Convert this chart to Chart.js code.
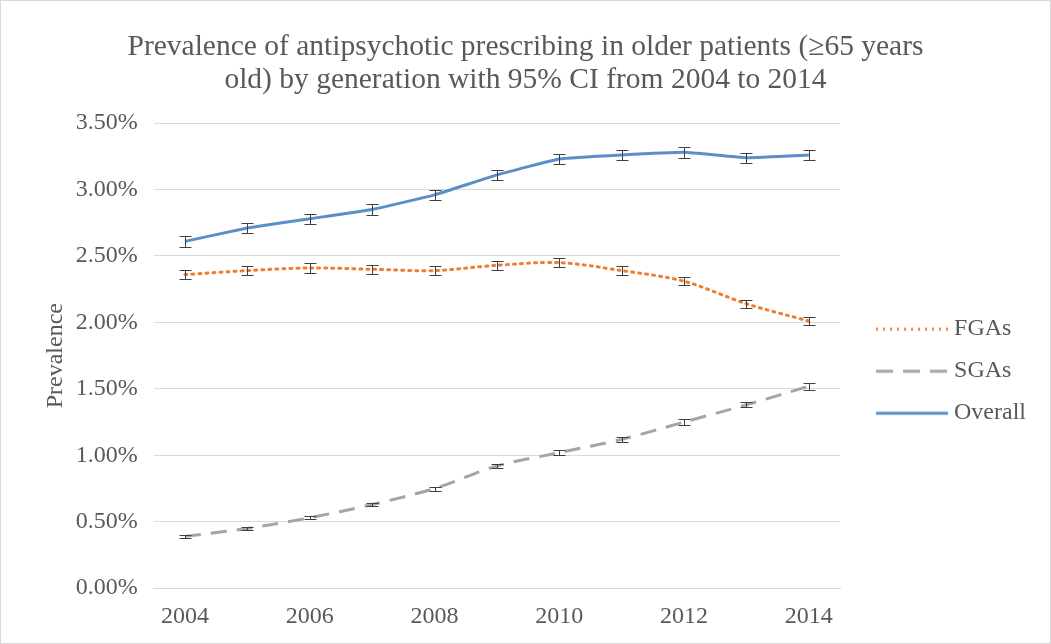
<!DOCTYPE html>
<html>
<head>
<meta charset="utf-8">
<script src="https://cdn.jsdelivr.net/npm/chart.js@4.4.1/dist/chart.umd.min.js"></script>
<style>
  html, body { margin: 0; padding: 0; background: #fff; }
  #wrap { width: 1049px; height: 642px; border: 1px solid #d9d9d9; position: relative; }
</style>
</head>
<body>
<div id="wrap"><canvas id="chart"></canvas></div>
<script>
// data
const years = ["2004", "2005", "2006", "2007", "2008", "2009", "2010", "2011", "2012", "2013", "2014"];
const fgas = [2.36, 2.39, 2.41, 2.40, 2.39, 2.43, 2.45, 2.39, 2.31, 2.14, 2.01];
const sgas = [0.39, 0.45, 0.53, 0.63, 0.75, 0.92, 1.02, 1.12, 1.25, 1.38, 1.52];
const overall = [2.61, 2.71, 2.78, 2.85, 2.96, 3.11, 3.23, 3.26, 3.28, 3.24, 3.26];
// 95% CI half widths
const fgasCI = [0.035, 0.035, 0.035, 0.033, 0.033, 0.033, 0.033, 0.033, 0.030, 0.028, 0.028];
const sgasCI = [0.010, 0.012, 0.013, 0.014, 0.015, 0.017, 0.018, 0.020, 0.020, 0.020, 0.025];
const overallCI = [0.04, 0.038, 0.038, 0.038, 0.038, 0.038, 0.038, 0.038, 0.04, 0.038, 0.038];
const yTicks = [0, 0.5, 1.0, 1.5, 2.0, 2.5, 3.0, 3.5];

const serif = "'Liberation Serif', 'DejaVu Serif', serif";
const textColor = "#595959";

// legend line image (line sits on the right part of the image)
const boxW = 84;
function legendLine(color, dash) {
  let c = document.createElement("canvas");
  c.width = boxW + 12; c.height = 6;
  let g = c.getContext("2d");
  g.strokeStyle = color;
  g.lineWidth = 3;
  g.setLineDash(dash);
  g.beginPath();
  g.moveTo(c.width - 72, 3); g.lineTo(c.width, 3);
  g.stroke();
  return c;
}

// center the title on the whole canvas
const centerTitle = {
  id: "centerTitle",
  afterLayout(chart) {
    if (chart.titleBlock) {
      chart.titleBlock.left = 0;
      chart.titleBlock.right = chart.width;
    }
  }
};

// error bars
const errorBars = {
  id: "errorBars",
  afterDatasetsDraw(chart) {
    let ctx = chart.ctx;
    let y = chart.scales.y;
    ctx.save();
    ctx.strokeStyle = "#3f3f3f";
    ctx.lineWidth = 1;
    chart.data.datasets.forEach((ds, i) => {
      let meta = chart.getDatasetMeta(i);
      meta.data.forEach((pt, j) => {
        let x = Math.round(pt.x) + 0.5;
        let hi = Math.round(y.getPixelForValue(ds.data[j] + ds.ci[j])) + 0.5;
        let lo = Math.round(y.getPixelForValue(ds.data[j] - ds.ci[j])) + 0.5;
        ctx.beginPath();
        ctx.moveTo(x, hi); ctx.lineTo(x, lo);
        ctx.moveTo(x - 6, hi); ctx.lineTo(x + 6, hi);
        ctx.moveTo(x - 6, lo); ctx.lineTo(x + 6, lo);
        ctx.stroke();
      });
    });
    ctx.restore();
  }
};

new Chart(document.getElementById("chart"), {
  type: "line",
  data: {
    labels: years,
    datasets: [
      {
        label: "FGAs", data: fgas, ci: fgasCI,
        borderColor: "#ED7D31", borderWidth: 3, borderDash: [2, 5], borderCapStyle: "round",
        pointRadius: 0, tension: 0.3, pointStyle: legendLine("#ED7D31", [2, 5])
      },
      {
        label: "SGAs", data: sgas, ci: sgasCI,
        borderColor: "#A5A5A5", borderWidth: 3, borderDash: [16, 10],
        pointRadius: 0, tension: 0.3, pointStyle: legendLine("#A5A5A5", [17, 10])
      },
      {
        label: "Overall", data: overall, ci: overallCI,
        borderColor: "#5B8FC7", borderWidth: 3,
        pointRadius: 0, tension: 0.1, pointStyle: legendLine("#5B8FC7", [])
      }
    ]
  },
  options: {
    responsive: true,
    maintainAspectRatio: false,
    animation: false,
    layout: { padding: { left: 38, right: 14, top: 30, bottom: 0 } },
    plugins: {
      title: {
        display: true,
        text: ["Prevalence of antipsychotic prescribing in older patients (\u226565 years", "old) by generation with 95% CI from 2004 to 2014"],
        color: textColor,
        font: { family: serif, size: 29.5, weight: "normal", lineHeight: 1.12 },
        padding: { top: 0, bottom: 26 }
      },
      legend: {
        position: "right",
        title: { display: true, text: "", padding: { top: 54, bottom: 0 } },
        labels: {
          usePointStyle: true,
          pointStyleWidth: boxW,
          color: textColor,
          font: { family: serif, size: 24 },
          padding: 18
        }
      },
      tooltip: { enabled: false }
    },
    scales: {
      x: {
        offset: true,
        grid: { display: false, drawTicks: false },
        border: { color: "#d9d9d9" },
        afterFit: (s) => { s.height -= 2; },
        ticks: {
          autoSkip: false,
          maxRotation: 0,
          color: textColor,
          font: { family: serif, size: 24 },
          padding: 14,
          callback: (v, i) => (i % 2 === 0 ? years[i] : "")
        }
      },
      y: {
        min: 0, max: 3.5,
        afterBuildTicks: (axis) => { axis.ticks = yTicks.map(v => ({ value: v })); },
        afterFit: (s) => { s.width -= 14; },
        grid: { color: "#d9d9d9", drawTicks: false },
        border: { display: false },
        title: {
          display: true, text: "Prevalence", color: textColor,
          font: { family: serif, size: 24 }, padding: { top: 2, bottom: 4 }
        },
        ticks: {
          color: textColor,
          font: { family: serif, size: 24 },
          padding: 16,
          callback: v => v.toFixed(2) + "%"
        }
      }
    }
  },
  plugins: [errorBars, centerTitle]
});
</script>
</body>
</html>
